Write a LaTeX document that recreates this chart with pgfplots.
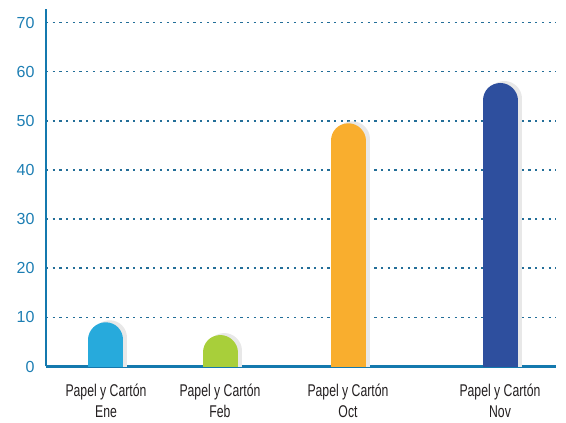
\documentclass[border=0pt]{standalone}
\usepackage{pgfplots}
\pgfplotsset{compat=1.18}
\usepackage{fontspec}
\setmainfont{Liberation Sans}
\newfontfamily\condensed{Liberation Sans}[FakeStretch=0.72]
\definecolor{axiscol}{HTML}{1479AE}
\definecolor{gridcol}{HTML}{236E98}
\definecolor{tickcol}{HTML}{1D7EB3}
\definecolor{labcol}{HTML}{231F20}
\definecolor{cEne}{HTML}{27AADC}
\definecolor{cFeb}{HTML}{A8CF3A}
\definecolor{cOct}{HTML}{F9AE2E}
\definecolor{cNov}{HTML}{2E4F9E}
\definecolor{shadowcol}{HTML}{E8E8E8}
\begin{document}
\begin{tikzpicture}
\useasboundingbox (0,0) rectangle (566pt,423pt);
\begin{axis}[
  at={(46pt,56.5pt)}, anchor=south west,
  scale only axis, width=510pt, height=357.2pt,
  xmin=0, xmax=510, ymin=0, ymax=72.7,
  axis x line=bottom, axis y line=left,
  axis line style={-, draw=axiscol, line width=2.6pt},
  ytick={0,10,...,70},
  xtick={60,174,302,454},
  xticklabels={{Papel y Cartón\\Ene},{Papel y Cartón\\Feb},{Papel y Cartón\\Oct},{Papel y Cartón\\Nov}},
  xticklabel style={align=center, font=\fontsize{17}{20.5}\selectfont\condensed, text=labcol, yshift=-14pt},
  yticklabel style={font=\fontsize{16}{19}\selectfont, text=tickcol, xshift=-8pt},
  /pgf/number format/assume math mode=true,
  major tick length=0pt,
  ymajorgrids,
  major grid style={draw=gridcol, line width=1.5pt, dash pattern=on 2.3pt off 4.4pt},
  clip=true,
]
\addplot[ycomb, line width=35pt, line cap=round, draw=shadowcol, xshift=4pt, yshift=-15.5pt] coordinates {(60,9) (174,6.4) (302,49.5) (454,57.7)};
\addplot[ycomb, line width=35pt, line cap=round, draw=cEne, yshift=-17.5pt] coordinates {(60,9)};
\addplot[ycomb, line width=35pt, line cap=round, draw=cFeb, yshift=-17.5pt] coordinates {(174,6.4)};
\addplot[ycomb, line width=35pt, line cap=round, draw=cOct, yshift=-17.5pt] coordinates {(302,49.5)};
\addplot[ycomb, line width=35pt, line cap=round, draw=cNov, yshift=-17.5pt] coordinates {(454,57.7)};
\end{axis}
\end{tikzpicture}
\end{document}
